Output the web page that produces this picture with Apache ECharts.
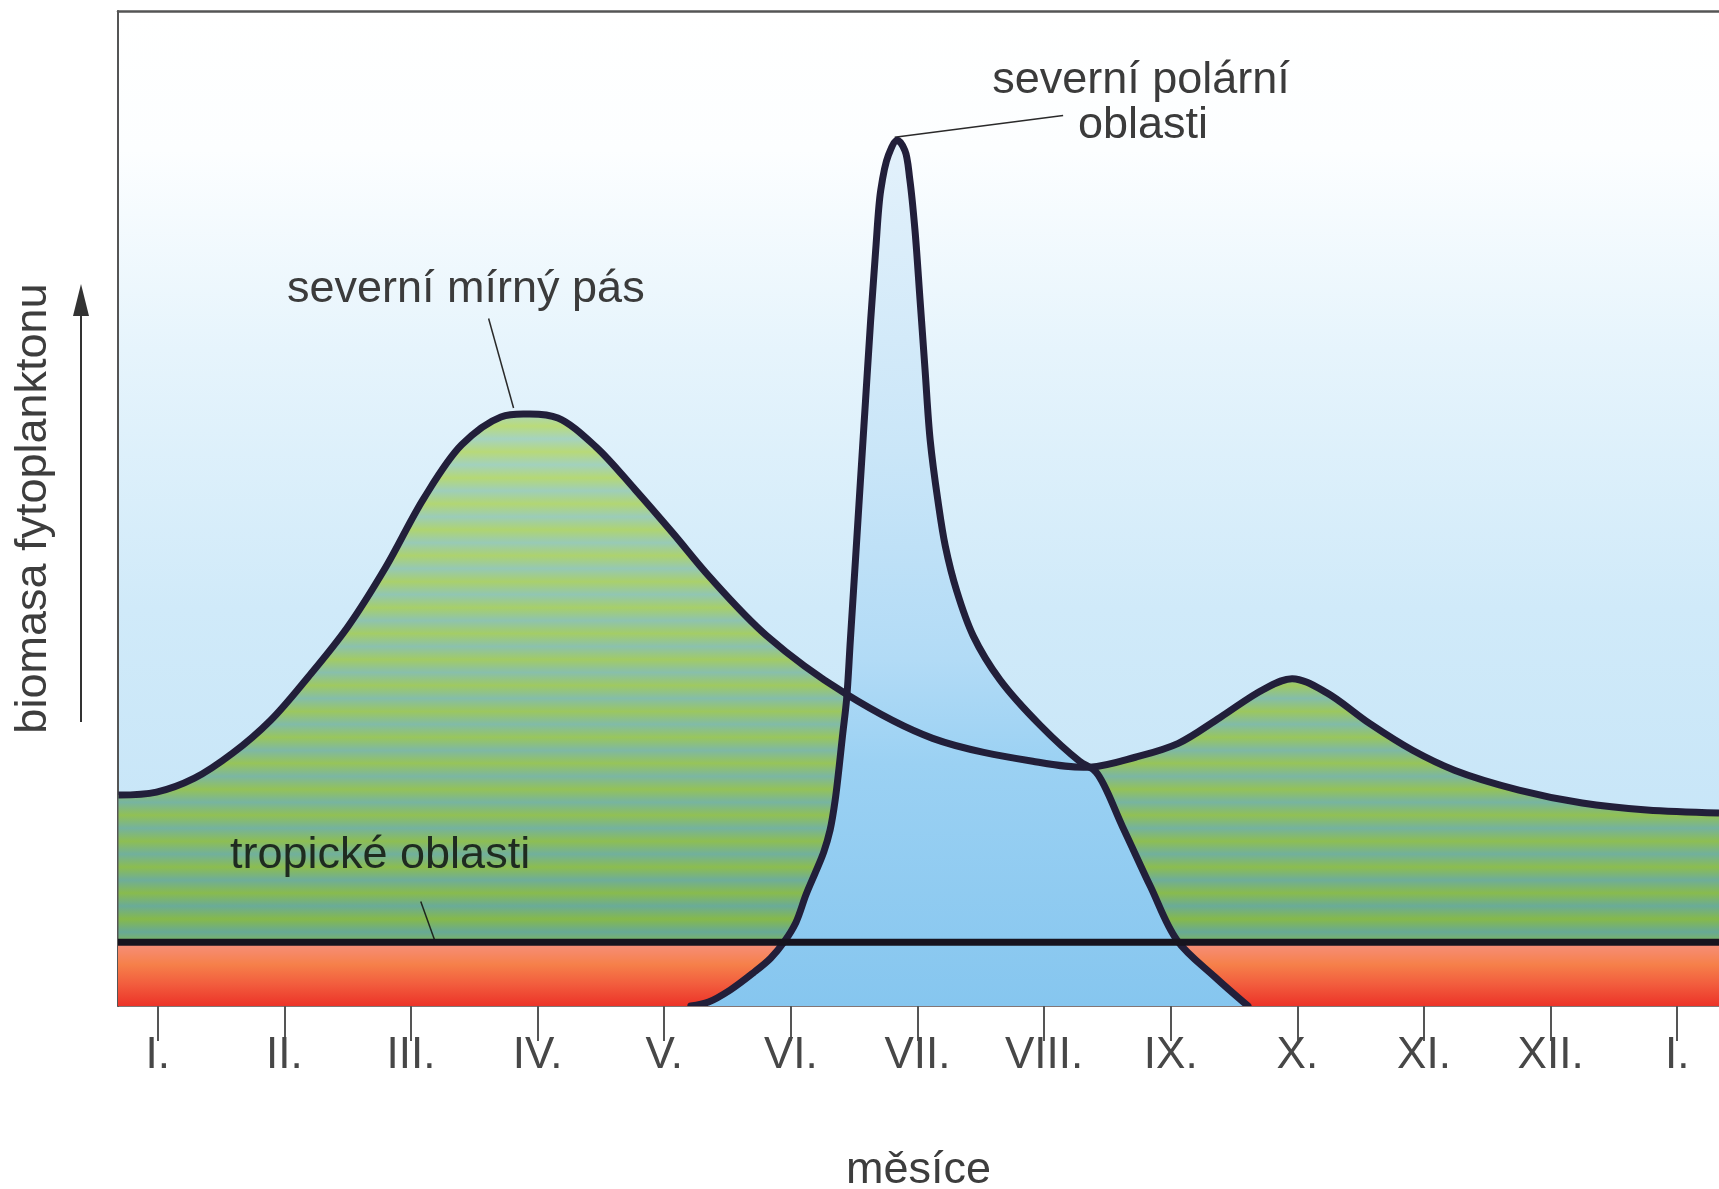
<!DOCTYPE html>
<html lang="cs">
<head>
<meta charset="utf-8">
<title>Sezónní biomasa fytoplanktonu</title>
<script src="https://cdn.jsdelivr.net/npm/echarts@6/dist/echarts.min.js"></script>
<style>
  html, body { margin: 0; padding: 0; background: #ffffff; }
  #chart { width: 1719px; height: 1189px; }
</style>
</head>
<body>
<div id="chart"></div>
<script>
// Months on the x axis: 0 = January, 12 = January of the following year
const monthTicks = [0, 1, 2, 3, 4, 5, 6, 7, 8, 9, 10, 11, 12];
const monthLabels = ['I.', 'II.', 'III.', 'IV.', 'V.', 'VI.', 'VII.', 'VIII.', 'IX.', 'X.', 'XI.', 'XII.', 'I.'];

// Northern temperate belt: spring bloom and smaller autumn bloom (relative biomass 0–100)
const temperateMonths = [-0.31, -0.01, 0.29, 0.59, 0.89, 1.19, 1.50, 1.80, 2.10, 2.40, 2.71, 2.92, 3.16, 3.46, 3.77, 4.07, 4.36, 4.81, 5.43, 6.12, 6.91, 7.36, 7.72, 8.06, 8.39, 8.73, 8.96, 9.23, 9.57, 9.91, 10.24, 10.75, 11.25, 11.76, 12.33];
const temperateBiomass = [21.2, 21.5, 22.9, 25.4, 28.7, 33.1, 38.1, 44.1, 51.0, 56.4, 59.2, 59.5, 59.1, 56.2, 51.9, 47.5, 43.1, 37.2, 31.4, 26.9, 24.6, 24.0, 25.0, 26.4, 29.0, 31.8, 32.9, 31.5, 28.4, 25.7, 23.7, 21.7, 20.4, 19.7, 19.4];

// Northern polar regions: a single sharp summer peak
const polarMonths = [4.21, 4.35, 4.52, 4.70, 4.84, 4.95, 5.04, 5.12, 5.20, 5.26, 5.31, 5.35, 5.41, 5.44, 5.47, 5.51, 5.55, 5.59, 5.63, 5.67, 5.71, 5.77, 5.84, 5.90, 5.94, 5.98, 6.02, 6.06, 6.10, 6.16, 6.22, 6.31, 6.44, 6.65, 6.97, 7.28, 7.41, 7.62, 7.84, 8.05, 8.35, 8.61];
const polarBiomass = [0, 0.4, 1.6, 3.3, 4.8, 6.5, 8.4, 11.2, 13.6, 15.5, 17.7, 20.7, 27.4, 30.8, 36.8, 44.8, 52.9, 60.9, 68.9, 76.0, 82.0, 85.5, 87.0, 86.0, 83.0, 78.0, 71.0, 63.9, 56.9, 50.9, 46.2, 41.7, 37.2, 32.8, 28.2, 24.6, 23.5, 18.0, 12.0, 6.6, 2.9, 0];

// Tropical regions: low, constant biomass all year
const tropicalMonths = [-0.314, 12.33];
const tropicalBiomass = [6.4, 6.4];

const zip = (xs, ys) => xs.map((x, i) => [x, ys[i]]);

const FONT = '"Liberation Sans", Arial, Helvetica, sans-serif';
const STROKE = '#221f3a';

// Horizontal green/teal banding of the temperate fill
function hex(c) { return [1, 3, 5].map(i => parseInt(c.slice(i, i + 2), 16)); }
function mix(a, b, t) {
  const A = hex(a), B = hex(b);
  return 'rgb(' + A.map((v, i) => Math.round(v + (B[i] - v) * t)).join(',') + ')';
}
function bandStops(n) {
  const stops = [];
  for (let i = 0; i < n; i++) {
    const t = i / (n - 1);
    stops.push({ offset: i / n, color: mix('#bddd7d', '#86b94a', t) });
    stops.push({ offset: (i + 0.5) / n, color: mix('#a8d5c2', '#67a996', t) });
  }
  stops.push({ offset: 1, color: mix('#bddd7d', '#86b94a', 1) });
  return stops;
}

// Centripetal Catmull-Rom curve through pixel points, written as SVG path commands
function curvePath(pts) {
  const dist = (a, b) => Math.hypot(b[0] - a[0], b[1] - a[1]);
  let d = 'M' + pts[0][0] + ',' + pts[0][1];
  for (let i = 0; i < pts.length - 1; i++) {
    const p0 = pts[i - 1] || pts[i], p1 = pts[i], p2 = pts[i + 1], p3 = pts[i + 2] || pts[i + 1];
    const d1 = Math.sqrt(dist(p0, p1)), d2 = Math.sqrt(dist(p1, p2)), d3 = Math.sqrt(dist(p2, p3));
    let c1 = p1, c2 = p2;
    if (d1 > 1e-6) {
      c1 = [0, 1].map(k => (d1 * d1 * p2[k] - d2 * d2 * p0[k] + (2 * d1 * d1 + 3 * d1 * d2 + d2 * d2) * p1[k]) / (3 * d1 * (d1 + d2)));
    }
    if (d3 > 1e-6) {
      c2 = [0, 1].map(k => (d3 * d3 * p1[k] - d2 * d2 * p3[k] + (2 * d3 * d3 + 3 * d3 * d2 + d2 * d2) * p2[k]) / (3 * d3 * (d3 + d2)));
    }
    d += ' C' + c1[0] + ',' + c1[1] + ' ' + c2[0] + ',' + c2[1] + ' ' + p2[0] + ',' + p2[1];
  }
  return d;
}

// A custom series drawing one smooth curve (area or outline) through the given points
function curveSeries(name, months, values, z, mode, style) {
  return {
    name, type: 'custom', z, clip: true, silent: true,
    data: zip(months, values),
    encode: { x: 0, y: 1 },
    renderItem(params, api) {
      if (params.dataIndex !== 0) return null;
      const pts = months.map((m, i) => api.coord([m, values[i]]));
      let path = curvePath(pts);
      if (mode === 'area') {
        const base = api.coord([0, 0])[1];
        path += ' L' + pts[pts.length - 1][0] + ',' + base + ' L' + pts[0][0] + ',' + base + ' Z';
      }
      return { type: 'path', shape: { pathData: path }, style };
    }
  };
}

const chart = echarts.init(document.getElementById('chart'), null, { renderer: 'canvas' });

chart.setOption({
  animation: false,
  backgroundColor: '#ffffff',
  grid: {
    left: 118, right: 0, top: 11, bottom: 183,
    outerBoundsMode: 'none',
    containLabel: false,
    show: true, borderWidth: 0,
    backgroundColor: {
      type: 'linear', x: 0, y: 0, x2: 0, y2: 1,
      colorStops: [
        { offset: 0, color: '#ffffff' },
        { offset: 0.14, color: '#fcfeff' },
        { offset: 0.34, color: '#e6f4fc' },
        { offset: 0.6, color: '#d0eaf9' },
        { offset: 1, color: '#c1e2f7' }
      ]
    }
  },
  xAxis: [{
    type: 'value',
    min: -0.314, max: 12.33,
    name: 'měsíce',
    nameLocation: 'middle',
    nameGap: 165,
    nameTextStyle: { fontSize: 45, color: '#3d3d3d', fontFamily: FONT, verticalAlign: 'middle' },
    axisLine: { show: true, onZero: false, lineStyle: { color: '#5a4a4a', width: 1.5 } },
    axisTick: { show: true, length: 35, customValues: monthTicks, lineStyle: { color: '#555', width: 2 } },
    axisLabel: {
      show: true, customValues: monthTicks, margin: 50,
      fontSize: 44, color: '#474747', fontFamily: FONT, verticalAlign: 'middle',
      formatter: v => monthLabels[Math.round(v)]
    },
    splitLine: { show: false }
  }, {
    type: 'value', position: 'top',
    min: -0.314, max: 12.33,
    axisLine: { show: true, onZero: false, lineStyle: { color: '#555', width: 2.5 } },
    axisTick: { show: false }, axisLabel: { show: false }, splitLine: { show: false }
  }],
  yAxis: {
    type: 'value', min: 0, max: 100,
    name: 'biomasa fytoplanktonu',
    nameLocation: 'middle',
    nameGap: 84,
    nameRotate: 90,
    nameTextStyle: { fontSize: 45, color: '#3d3d3d', fontFamily: FONT, verticalAlign: 'middle' },
    axisLine: { show: true, onZero: false, lineStyle: { color: '#555', width: 2 } },
    axisTick: { show: false }, axisLabel: { show: false }, splitLine: { show: false }
  },
  series: [
    curveSeries('severní mírný pás (plocha)', temperateMonths, temperateBiomass, 2, 'area', {
      fill: { type: 'linear', x: 0, y: 400, x2: 0, y2: 945, global: true, colorStops: bandStops(21) },
      stroke: null
    }),
    {
      name: 'tropické oblasti (plocha)', type: 'line', z: 3, silent: true,
      data: zip(tropicalMonths, tropicalBiomass), symbol: 'none',
      lineStyle: { width: 0, opacity: 0 },
      areaStyle: {
        opacity: 1,
        color: {
          type: 'linear', x: 0, y: 942, x2: 0, y2: 1006, global: true,
          colorStops: [
            { offset: 0, color: '#f6907f' },
            { offset: 0.35, color: '#f6804a' },
            { offset: 0.65, color: '#f25e3e' },
            { offset: 1, color: '#ec3328' }
          ]
        }
      }
    },
    curveSeries('severní polární oblasti (plocha)', polarMonths, polarBiomass, 4, 'area', {
      fill: {
        type: 'linear', x: 0, y: 140, x2: 0, y2: 1006, global: true,
        colorStops: [
          { offset: 0, color: '#e3f1fb' },
          { offset: 0.36, color: '#cae6f8' },
          { offset: 0.6, color: '#b2dbf6' },
          { offset: 0.72, color: '#9bd1f3' },
          { offset: 1, color: '#86c6ef' }
        ]
      },
      stroke: null
    }),
    curveSeries('severní mírný pás', temperateMonths, temperateBiomass, 5, 'line', {
      fill: null, stroke: STROKE, lineWidth: 7, lineJoin: 'round', lineCap: 'butt'
    }),
    curveSeries('severní polární oblasti', polarMonths, polarBiomass, 6, 'line', {
      fill: null, stroke: STROKE, lineWidth: 7, lineJoin: 'round', lineCap: 'round'
    }),
    {
      name: 'tropické oblasti', type: 'line', z: 7, silent: true,
      data: zip(tropicalMonths, tropicalBiomass), symbol: 'none',
      lineStyle: { color: '#17141f', width: 7 },
      // leader lines from the labels to their curves
      markLine: {
        silent: true, symbol: ['none', 'none'], label: { show: false },
        lineStyle: { color: '#2a2a2a', width: 1.5, type: 'solid' },
        data: [
          [{ coord: [2.613, 69.1] }, { coord: [2.81, 60.1] }],
          [{ coord: [5.82, 87.3] }, { coord: [7.15, 89.5] }],
          [{ coord: [2.077, 10.5], lineStyle: { color: '#1e261e' } }, { coord: [2.187, 6.6] }]
        ]
      }
    }
  ],
  graphic: [
    // arrow beside the vertical axis title
    { type: 'line', z: 100, shape: { x1: 81, y1: 722, x2: 81, y2: 312 }, style: { stroke: '#333', lineWidth: 2 } },
    { type: 'polygon', z: 100, shape: { points: [[81, 284], [73, 316], [89, 316]] }, style: { fill: '#333' } },
    // series annotations
    { type: 'text', z: 100, x: 287, y: 290,
      style: { text: 'severní mírný pás', font: '45px ' + FONT, fill: '#3b3b3b', align: 'left', verticalAlign: 'middle' } },
    { type: 'text', z: 100, x: 1141, y: 81,
      style: { text: 'severní polární', font: '45px ' + FONT, fill: '#3b3b3b', align: 'center', verticalAlign: 'middle' } },
    { type: 'text', z: 100, x: 1143, y: 126,
      style: { text: 'oblasti', font: '45px ' + FONT, fill: '#3b3b3b', align: 'center', verticalAlign: 'middle' } },
    { type: 'text', z: 100, x: 230, y: 856,
      style: { text: 'tropické oblasti', font: '45px ' + FONT, fill: '#1f2b20', align: 'left', verticalAlign: 'middle' } }
  ]
});
</script>
</body>
</html>
